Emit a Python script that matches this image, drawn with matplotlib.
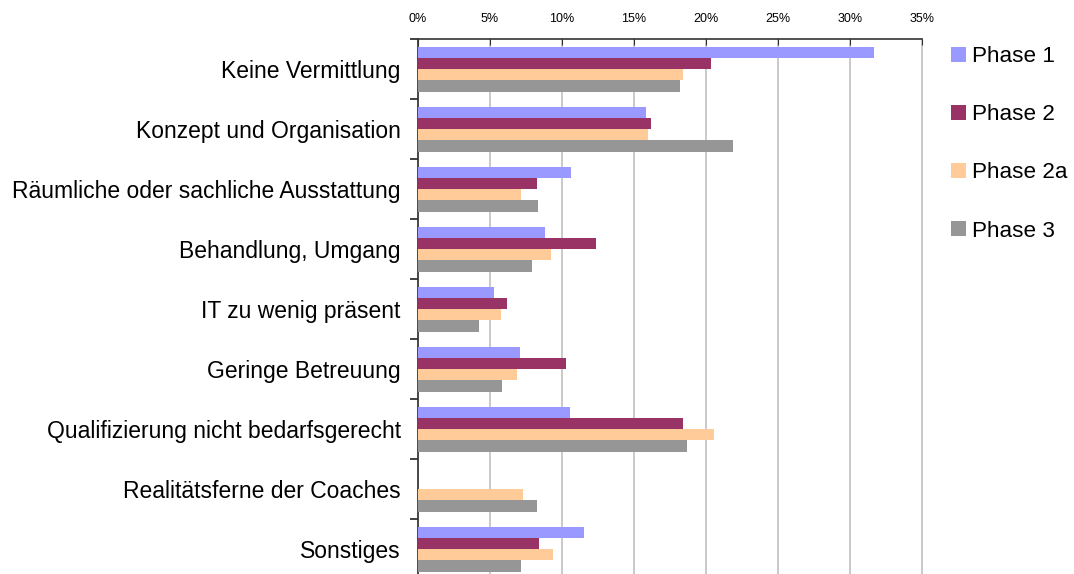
import matplotlib.pyplot as plt
import numpy as np
from matplotlib.ticker import PercentFormatter

# Categories (top to bottom) and shares per phase in percent
categories = ['Keine Vermittlung', 'Konzept und Organisation',
              'Räumliche oder sachliche Ausstattung', 'Behandlung, Umgang',
              'IT zu wenig präsent', 'Geringe Betreuung',
              'Qualifizierung nicht bedarfsgerecht', 'Realitätsferne der Coaches',
              'Sonstiges']
phase1 = [31.65, 15.8, 10.6, 8.8, 5.25, 7.06, 10.53, 0.0, 11.5]
phase2 = [20.33, 16.17, 8.24, 12.34, 6.16, 10.25, 18.38, 0.0, 8.38]
phase2a = [18.4, 15.96, 7.13, 9.21, 5.74, 6.85, 20.53, 7.27, 9.35]
phase3 = [18.18, 21.87, 8.31, 7.89, 4.21, 5.81, 18.66, 8.24, 7.13]

series_names = ['Phase 1', 'Phase 2', 'Phase 2a', 'Phase 3']
colors = ['#9999ff', '#993366', '#ffcc99', '#969696']

plt.rcParams['font.family'] = ['Liberation Sans', 'DejaVu Sans']

fig = plt.figure(figsize=(10.74, 5.74), dpi=100)
# axes spans 418..922 px horizontally, 39..579 px vertically (bottom cut off)
ax = fig.add_axes([418 / 1074, (574 - 579) / 574, 504 / 1074, 540 / 574])

y = np.arange(len(categories))
h = 0.1875
all_series = [phase1, phase2, phase2a, phase3]
for i, (vals, name, col) in enumerate(zip(all_series, series_names, colors)):
    ax.barh(y - 1.5 * h + i * h, vals, height=h, color=col, label=name, zorder=3)

ax.set_xlim(0, 35)
ax.set_ylim(len(categories) - 0.5, -0.5)
ax.set_xticks(np.arange(0, 36, 5))
ax.xaxis.set_major_formatter(PercentFormatter(decimals=0))
ax.xaxis.tick_top()
ax.tick_params(axis='x', labelsize=9, length=4, direction='in', pad=10, color='#333333')
ax.grid(axis='x', color='#c0c0c0', linewidth=1.2, zorder=0)
for gl in ax.get_xgridlines():
    gl.set_clip_on(False)

# category labels at centers, separator ticks between groups
ax.set_yticks(y)
ax.set_yticklabels(categories, fontsize=16.5)
ax.tick_params(axis='y', length=0, pad=12.5)
ax.set_yticks(np.arange(len(categories) + 1) - 0.5, minor=True)
ax.tick_params(axis='y', which='minor', length=6, width=1.2, direction='out', color='#222222')

for s in ['right', 'bottom']:
    ax.spines[s].set_visible(False)
ax.spines['left'].set_color('#333333')
ax.spines['left'].set_linewidth(1.2)
ax.spines['top'].set_color('#333333')
ax.spines['top'].set_linewidth(1.2)

leg = fig.legend(loc='upper left', bbox_to_anchor=(931 / 1074, 1 - 26 / 574),
                 frameon=False, fontsize=16.2, handlelength=0.67, handleheight=0.67,
                 handletextpad=0.27, labelspacing=1.65)

fig.savefig('out.png', dpi=100)
